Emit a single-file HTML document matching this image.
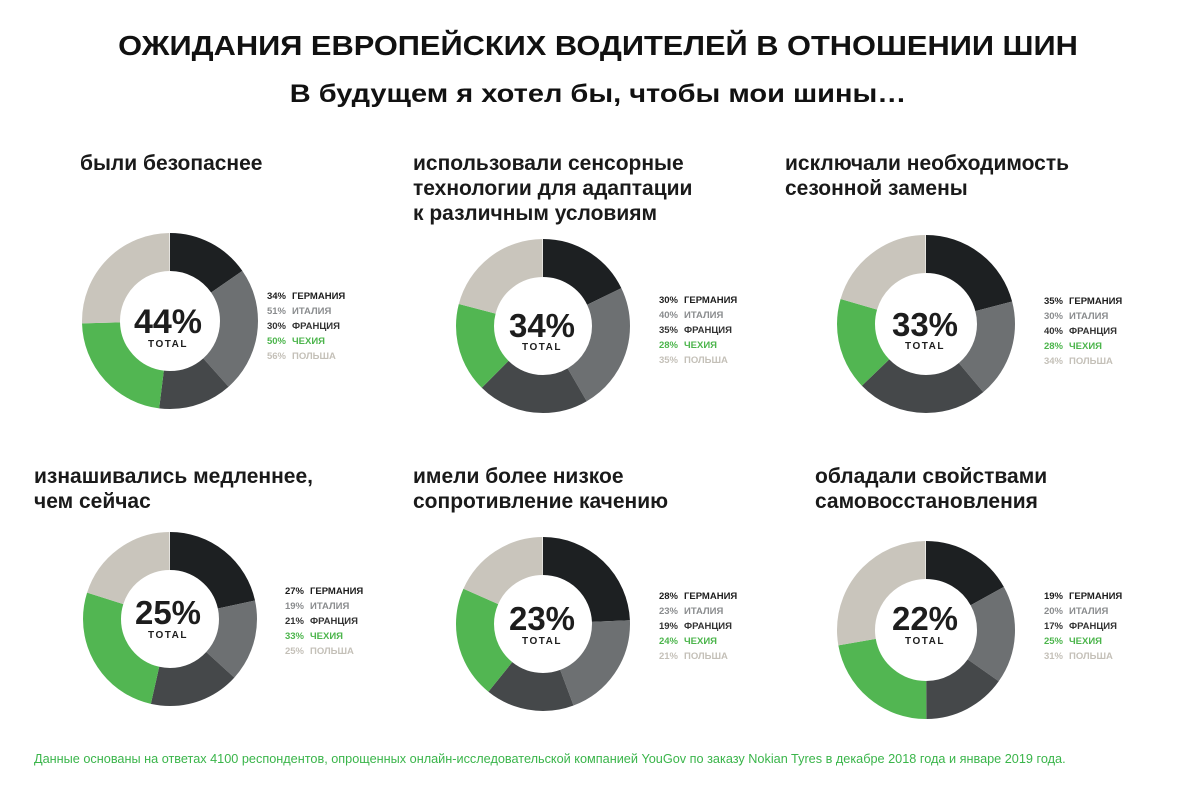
<!DOCTYPE html>
<html><head><meta charset="utf-8"><style>
body{margin:0;width:1196px;height:788px;background:#fff;position:relative;overflow:hidden;font-family:"Liberation Sans","DejaVu Sans",sans-serif;}
h1{position:absolute;left:0;width:1196px;top:30px;margin:0;text-align:center;font-size:28px;font-weight:bold;color:#111;transform:scaleX(1.1);}
h2{position:absolute;left:0;width:1196px;top:80px;margin:0;text-align:center;font-size:25px;font-weight:bold;color:#111;transform:scaleX(1.16);}
.h{position:absolute;font-size:21px;font-weight:bold;color:#1a1a1a;line-height:25px;}
.lg{position:absolute;font-size:9.5px;font-weight:bold;line-height:15px;}
.lg span{display:inline-block;width:26px;text-align:right;margin-right:6px;}
.foot{position:absolute;left:34px;top:752px;font-size:12.7px;color:#3ab54a;}
svg{position:absolute;left:0;top:0;}
</style></head><body>
<h1>ОЖИДАНИЯ ЕВРОПЕЙСКИХ ВОДИТЕЛЕЙ В ОТНОШЕНИИ ШИН</h1>
<h2>В будущем я хотел бы, чтобы мои шины…</h2>
<div class="h" style="left:80px;top:151px">были безопаснее</div>
<div class="h" style="left:413px;top:151px">использовали сенсорные<br>технологии для адаптации<br>к различным условиям</div>
<div class="h" style="left:785px;top:151px">исключали необходимость<br>сезонной замены</div>
<div class="h" style="left:34px;top:464px">изнашивались медленнее,<br>чем сейчас</div>
<div class="h" style="left:413px;top:464px">имели более низкое<br>сопротивление качению</div>
<div class="h" style="left:815px;top:464px">обладали свойствами<br>самовосстановления</div>

<svg width="1196" height="788" font-family="Liberation Sans, sans-serif">
<g stroke-width="38" fill="none">
<g transform="translate(170,321) rotate(-90)">
<circle r="69" pathLength="221" stroke="#1d2022" stroke-dasharray="34 221" stroke-dashoffset="0"/>
<circle r="69" pathLength="221" stroke="#6d7072" stroke-dasharray="51 221" stroke-dashoffset="-34"/>
<circle r="69" pathLength="221" stroke="#45484a" stroke-dasharray="30 221" stroke-dashoffset="-85"/>
<circle r="69" pathLength="221" stroke="#52b652" stroke-dasharray="50 221" stroke-dashoffset="-115"/>
<circle r="69" pathLength="221" stroke="#c9c5bc" stroke-dasharray="56 221" stroke-dashoffset="-165"/>
</g>
<g transform="translate(543,326) rotate(-90)">
<circle r="68" pathLength="168" stroke="#1d2022" stroke-dasharray="30 168" stroke-dashoffset="0"/>
<circle r="68" pathLength="168" stroke="#6d7072" stroke-dasharray="40 168" stroke-dashoffset="-30"/>
<circle r="68" pathLength="168" stroke="#45484a" stroke-dasharray="35 168" stroke-dashoffset="-70"/>
<circle r="68" pathLength="168" stroke="#52b652" stroke-dasharray="28 168" stroke-dashoffset="-105"/>
<circle r="68" pathLength="168" stroke="#c9c5bc" stroke-dasharray="35 168" stroke-dashoffset="-133"/>
</g>
<g transform="translate(926,324) rotate(-90)">
<circle r="70" pathLength="167" stroke="#1d2022" stroke-dasharray="35 167" stroke-dashoffset="0"/>
<circle r="70" pathLength="167" stroke="#6d7072" stroke-dasharray="30 167" stroke-dashoffset="-35"/>
<circle r="70" pathLength="167" stroke="#45484a" stroke-dasharray="40 167" stroke-dashoffset="-65"/>
<circle r="70" pathLength="167" stroke="#52b652" stroke-dasharray="28 167" stroke-dashoffset="-105"/>
<circle r="70" pathLength="167" stroke="#c9c5bc" stroke-dasharray="34 167" stroke-dashoffset="-133"/>
</g>
<g transform="translate(170,619) rotate(-90)">
<circle r="68" pathLength="125" stroke="#1d2022" stroke-dasharray="27 125" stroke-dashoffset="0"/>
<circle r="68" pathLength="125" stroke="#6d7072" stroke-dasharray="19 125" stroke-dashoffset="-27"/>
<circle r="68" pathLength="125" stroke="#45484a" stroke-dasharray="21 125" stroke-dashoffset="-46"/>
<circle r="68" pathLength="125" stroke="#52b652" stroke-dasharray="33 125" stroke-dashoffset="-67"/>
<circle r="68" pathLength="125" stroke="#c9c5bc" stroke-dasharray="25 125" stroke-dashoffset="-100"/>
</g>
<g transform="translate(543,624) rotate(-90)">
<circle r="68" pathLength="115" stroke="#1d2022" stroke-dasharray="28 115" stroke-dashoffset="0"/>
<circle r="68" pathLength="115" stroke="#6d7072" stroke-dasharray="23 115" stroke-dashoffset="-28"/>
<circle r="68" pathLength="115" stroke="#45484a" stroke-dasharray="19 115" stroke-dashoffset="-51"/>
<circle r="68" pathLength="115" stroke="#52b652" stroke-dasharray="24 115" stroke-dashoffset="-70"/>
<circle r="68" pathLength="115" stroke="#c9c5bc" stroke-dasharray="21 115" stroke-dashoffset="-94"/>
</g>
<g transform="translate(926,630) rotate(-90)">
<circle r="70" pathLength="112" stroke="#1d2022" stroke-dasharray="19 112" stroke-dashoffset="0"/>
<circle r="70" pathLength="112" stroke="#6d7072" stroke-dasharray="20 112" stroke-dashoffset="-19"/>
<circle r="70" pathLength="112" stroke="#45484a" stroke-dasharray="17 112" stroke-dashoffset="-39"/>
<circle r="70" pathLength="112" stroke="#52b652" stroke-dasharray="25 112" stroke-dashoffset="-56"/>
<circle r="70" pathLength="112" stroke="#c9c5bc" stroke-dasharray="31 112" stroke-dashoffset="-81"/>
</g>
</g>
<g fill="#1d1d1d" font-weight="bold" text-anchor="middle">
<text x="168" y="333" font-size="34">44%</text><text x="168" y="347" font-size="10" letter-spacing="1.5">TOTAL</text>
<text x="542" y="337" font-size="33">34%</text><text x="542" y="350" font-size="10" letter-spacing="1.5">TOTAL</text>
<text x="925" y="336" font-size="33">33%</text><text x="925" y="349" font-size="10" letter-spacing="1.5">TOTAL</text>
<text x="168" y="624" font-size="33">25%</text><text x="168" y="638" font-size="10" letter-spacing="1.5">TOTAL</text>
<text x="542" y="630" font-size="33">23%</text><text x="542" y="644" font-size="10" letter-spacing="1.5">TOTAL</text>
<text x="925" y="630" font-size="33">22%</text><text x="925" y="644" font-size="10" letter-spacing="1.5">TOTAL</text>
</g>
</svg>

<div class="lg" style="left:260px;top:289px"><div style="color:#1d1d1d"><span>34%</span>ГЕРМАНИЯ</div><div style="color:#8a8c8e"><span>51%</span>ИТАЛИЯ</div><div style="color:#333"><span>30%</span>ФРАНЦИЯ</div><div style="color:#4cb54c"><span>50%</span>ЧЕХИЯ</div><div style="color:#c4c0b8"><span>56%</span>ПОЛЬША</div></div>
<div class="lg" style="left:652px;top:293px"><div style="color:#1d1d1d"><span>30%</span>ГЕРМАНИЯ</div><div style="color:#8a8c8e"><span>40%</span>ИТАЛИЯ</div><div style="color:#333"><span>35%</span>ФРАНЦИЯ</div><div style="color:#4cb54c"><span>28%</span>ЧЕХИЯ</div><div style="color:#c4c0b8"><span>35%</span>ПОЛЬША</div></div>
<div class="lg" style="left:1037px;top:294px"><div style="color:#1d1d1d"><span>35%</span>ГЕРМАНИЯ</div><div style="color:#8a8c8e"><span>30%</span>ИТАЛИЯ</div><div style="color:#333"><span>40%</span>ФРАНЦИЯ</div><div style="color:#4cb54c"><span>28%</span>ЧЕХИЯ</div><div style="color:#c4c0b8"><span>34%</span>ПОЛЬША</div></div>
<div class="lg" style="left:278px;top:584px"><div style="color:#1d1d1d"><span>27%</span>ГЕРМАНИЯ</div><div style="color:#8a8c8e"><span>19%</span>ИТАЛИЯ</div><div style="color:#333"><span>21%</span>ФРАНЦИЯ</div><div style="color:#4cb54c"><span>33%</span>ЧЕХИЯ</div><div style="color:#c4c0b8"><span>25%</span>ПОЛЬША</div></div>
<div class="lg" style="left:652px;top:589px"><div style="color:#1d1d1d"><span>28%</span>ГЕРМАНИЯ</div><div style="color:#8a8c8e"><span>23%</span>ИТАЛИЯ</div><div style="color:#333"><span>19%</span>ФРАНЦИЯ</div><div style="color:#4cb54c"><span>24%</span>ЧЕХИЯ</div><div style="color:#c4c0b8"><span>21%</span>ПОЛЬША</div></div>
<div class="lg" style="left:1037px;top:589px"><div style="color:#1d1d1d"><span>19%</span>ГЕРМАНИЯ</div><div style="color:#8a8c8e"><span>20%</span>ИТАЛИЯ</div><div style="color:#333"><span>17%</span>ФРАНЦИЯ</div><div style="color:#4cb54c"><span>25%</span>ЧЕХИЯ</div><div style="color:#c4c0b8"><span>31%</span>ПОЛЬША</div></div>

<div class="foot">Данные основаны на ответах 4100 респондентов, опрощенных онлайн-исследовательской компанией YouGov по заказу Nokian Tyres в декабре 2018 года и январе 2019 года.</div>
</body></html>
